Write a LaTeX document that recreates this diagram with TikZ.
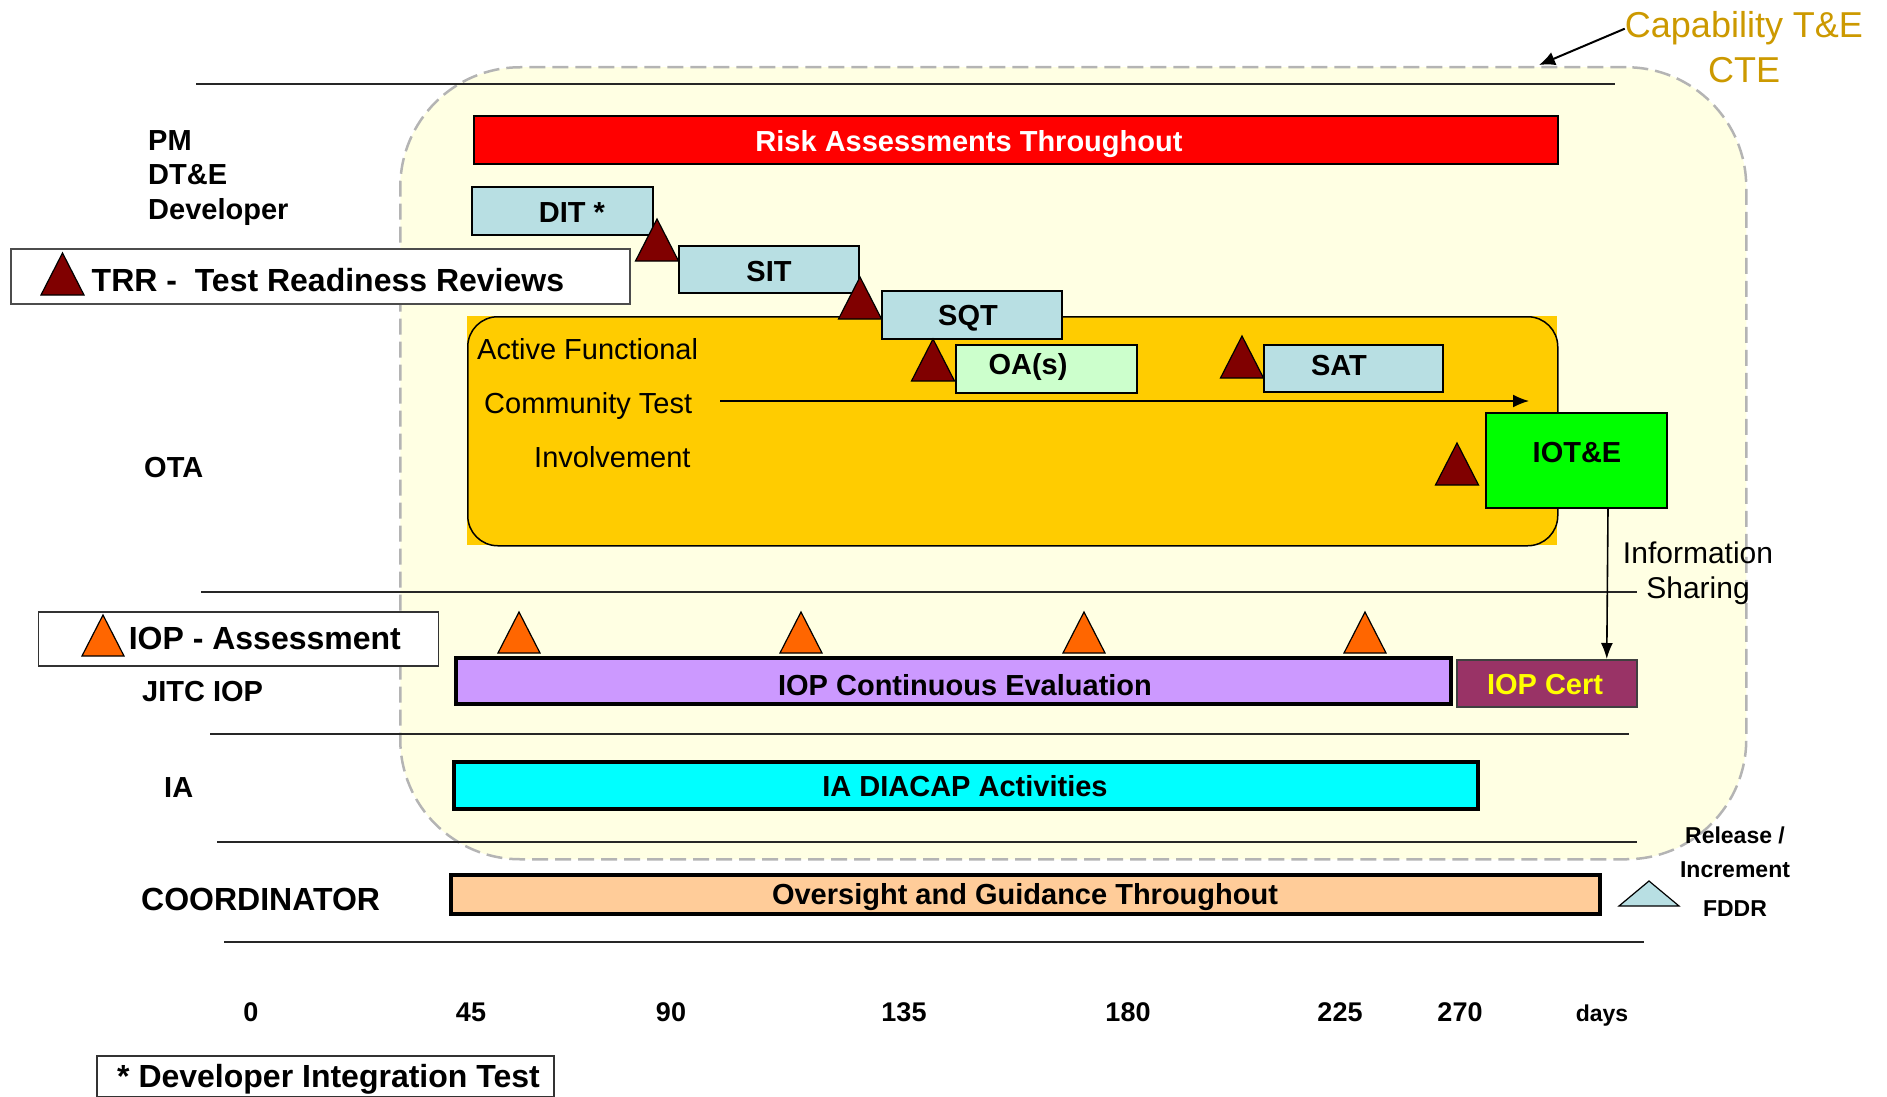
\documentclass[tikz,border=0pt]{standalone}
\usepackage{fontspec}
\setmainfont{Liberation Sans}
\usetikzlibrary{arrows.meta}
\definecolor{cteyellow}{HTML}{FFFFE3}
\definecolor{ctegold}{HTML}{CC9900}
\definecolor{lblue}{HTML}{B8DFE3}
\definecolor{otaorange}{HTML}{FFCC00}
\definecolor{oagreen}{HTML}{CCFFCC}
\definecolor{iotgreen}{HTML}{00FF00}
\definecolor{trrred}{HTML}{800000}
\definecolor{ioporange}{HTML}{FF6600}
\definecolor{ioppurple}{HTML}{CC99FF}
\definecolor{certplum}{HTML}{993366}
\definecolor{peach}{HTML}{FFCC99}
\definecolor{iacyan}{HTML}{00FFFF}
\definecolor{certyellow}{HTML}{FFFF00}
\definecolor{dashgray}{HTML}{B4B4B4}
\newcommand\myfs[1]{\fontsize{#1}{#1}\selectfont}
\tikzset{
  box/.style={draw=black, line width=1.5, anchor=north west, inner sep=0pt, outer sep=0pt},
  thickbar/.style={draw=black, line width=4, anchor=north west, inner sep=0pt, outer sep=0pt},
  blab/.style={anchor=base, inner sep=0pt, font=\myfs{29}\bfseries},
  rowlab/.style={anchor=base west, inner sep=0pt, font=\myfs{29}\bfseries},
  leglab/.style={anchor=base west, inner sep=0pt, font=\myfs{32}\bfseries},
  daylab/.style={anchor=base, inner sep=0pt, font=\myfs{27}\bfseries},
  seprule/.style={line width=1.6, black!85},
  trrtri/.pic={\draw[fill=trrred, line width=1.2] (-21.5,0) -- (0,-42) -- (21.5,0) -- cycle;},
  iopleg/.pic={\draw[fill=ioporange, line width=1.2] (-21,0) -- (0,-41) -- (21,0) -- cycle;},
  fddrtri/.pic={\draw[fill=lblue, line width=1.2] (-30,0) -- (0,-25) -- (30,0) -- cycle;}
}
\begin{document}
\begin{tikzpicture}[x=1pt,y=-1pt]
\useasboundingbox (0,0) rectangle (1887,1097);
% Capability T&E region
\node[draw=dashgray, line width=2.5, dash pattern=on 16 off 7, fill=cteyellow,
      rounded corners=120, anchor=north west, minimum width=1346, minimum height=792,
      inner sep=0pt] (cte) at (399,66) {};
\coordinate (ctetip) at (1539,65);
\node[anchor=base, inner sep=0pt, text=ctegold, font=\myfs{36}] (capt) at (1744,38) {Capability T\&E};
\node[anchor=base, inner sep=0pt, text=ctegold, font=\myfs{36}] (ctel) at (1744,83) {CTE};
\draw[line width=2, -{Latex[length=16,width=14]}] (capt.west) -- (ctetip);

% separator rules
\draw[seprule, line width=2.5] (196,84) -- (1615,84);
\draw[seprule] (201,592) -- (1637,592);
\draw[seprule] (210,734) -- (1629,734);
\draw[seprule] (217,842) -- (1637,842);
\draw[seprule, line width=2.2] (224,942) -- (1644,942);

% row labels
\node[rowlab] (pm) at (148,150) {PM};
\node[rowlab] (dte) at (148,184) {DT\&E};
\node[rowlab] (dev) at (148,219) {Developer};
\node[rowlab] (ota) at (144,477) {OTA};
\node[rowlab] (jitc) at (142,701) {JITC IOP};
\node[rowlab] (ia) at (164,797) {IA};
\node[rowlab, font=\myfs{32}\bfseries] (coord) at (141,910) {COORDINATOR};

% Risk bar
\node[box, fill=red, minimum width=1084, minimum height=48] (risk) at (474,116) {};
\node[blab, text=white] (risktxt) at (969,151) {Risk Assessments Throughout};

% OTA area
\fill[otaorange] (467,316) rectangle (1557,545);
\node[draw=black, line width=1.5, rounded corners=30, anchor=north west,
      minimum width=1090, minimum height=229, inner sep=0pt] (otabox) at (467,316) {};
\node[anchor=base west, inner sep=0pt, font=\myfs{29}] (af1) at (477,359) {Active Functional};
\node[anchor=base west, inner sep=0pt, font=\myfs{29}] (af2) at (484,413) {Community Test};
\node[anchor=base west, inner sep=0pt, font=\myfs{29}] (af3) at (534,467) {Involvement};
\coordinate (otastart) at (720,401);
\coordinate (otaend) at (1529,401);
\draw[line width=1.6, -{Latex[length=16,width=13]}] (otastart) -- (otaend);

% DT&E boxes
\node[box, fill=lblue, minimum width=181, minimum height=48] (dit) at (472,187) {};
\node[blab] at (572,222) {DIT *};
\node[box, fill=lblue, minimum width=180, minimum height=47] (sit) at (679,246) {};
\node[blab] at (769,281) {SIT};
\node[box, fill=lblue, minimum width=180, minimum height=48] (sqt) at (882,291) {};
\node[blab] at (968,325) {SQT};
\node[box, fill=oagreen, minimum width=181, minimum height=48] (oa) at (956,345) {};
\node[blab] at (1028,374) {OA(s)};
\node[box, fill=lblue, minimum width=179, minimum height=47] (sat) at (1264,345) {};
\node[blab] at (1339,375) {SAT};
\node[box, fill=iotgreen, minimum width=181, minimum height=95] (iote) at (1486,413) {};
\node[blab] at (1577,462) {IOT\&E};

% TRR triangles
\pic at (657,261) {trrtri};
\pic at (860,319) {trrtri};
\pic at (933,381) {trrtri};
\pic at (1242,378) {trrtri};
\pic at (1457,485) {trrtri};

% TRR legend
\node[draw=black!70, line width=2, fill=white, anchor=north west, minimum width=619,
      minimum height=55, inner sep=0pt] (trrleg) at (10,248) {};
\pic at (62.5,295) {trrtri};
\node[leglab] at (91.5,291) {TRR -\ \ Test Readiness Reviews};

% IOP
\node[thickbar, fill=ioppurple, minimum width=995, minimum height=46] (iopce) at (456,658) {};
\node[blab] at (965,695) {IOP Continuous Evaluation};
\node[draw=black!75, line width=1.5, fill=certplum, anchor=north west, minimum width=180,
      minimum height=47, inner sep=0pt] (iopcert) at (1456,659) {};
\node[blab, text=certyellow] at (1545,694) {IOP Cert};
\pic at (519,653) {iopleg};
\pic at (801,653) {iopleg};
\pic at (1084,653) {iopleg};
\pic at (1365,653) {iopleg};

% Information sharing
\draw[line width=1.6, -{Latex[length=16,width=12]}] ([xshift=31.5]iote.south) -- ([xshift=60]iopcert.north);
\node[anchor=base, inner sep=0pt, font=\myfs{30}] (info1) at (1698,563) {Information};
\node[anchor=base, inner sep=0pt, font=\myfs{30}] (info2) at (1698,598) {Sharing};

% IOP legend
\node[draw=black!80, line width=1.5, fill=white, anchor=north west, minimum width=400,
      minimum height=54, inner sep=0pt] (iopleg) at (37.5,611) {};
\pic at (103,656) {iopleg};
\node[leglab] at (128.6,649) {IOP - Assessment};

% IA
\node[thickbar, fill=iacyan, minimum width=1024, minimum height=47] (iabar) at (454,762) {};
\node[blab] at (965,796) {IA DIACAP Activities};

% Coordinator
\node[thickbar, fill=peach, minimum width=1149, minimum height=39] (oversight) at (451,875) {};
\node[blab] at (1025,904) {Oversight and Guidance Throughout};

% Release / FDDR
\pic at (1649,906) {fddrtri};
\node[anchor=base, inner sep=0pt, font=\myfs{23}\bfseries] at (1735,843) {Release /};
\node[anchor=base, inner sep=0pt, font=\myfs{23}\bfseries] at (1735,877) {Increment};
\node[anchor=base, inner sep=0pt, font=\myfs{23}\bfseries] at (1735,916) {FDDR};

% day axis labels
\node[daylab] at (251,1021) {0};
\node[daylab] at (471,1021) {45};
\node[daylab] at (671,1021) {90};
\node[daylab] at (904,1021) {135};
\node[daylab] at (1128,1021) {180};
\node[daylab] at (1340,1021) {225};
\node[daylab] at (1460,1021) {270};
\node[daylab, font=\myfs{23}\bfseries] at (1602,1021) {days};

% footnote box
\node[draw=black!80, line width=2, fill=white, anchor=north west, minimum width=457,
      minimum height=41, inner sep=0pt] (ditnote) at (96,1055) {};
\node[leglab] at (117,1087) {* Developer Integration Test};
\end{tikzpicture}
\end{document}
